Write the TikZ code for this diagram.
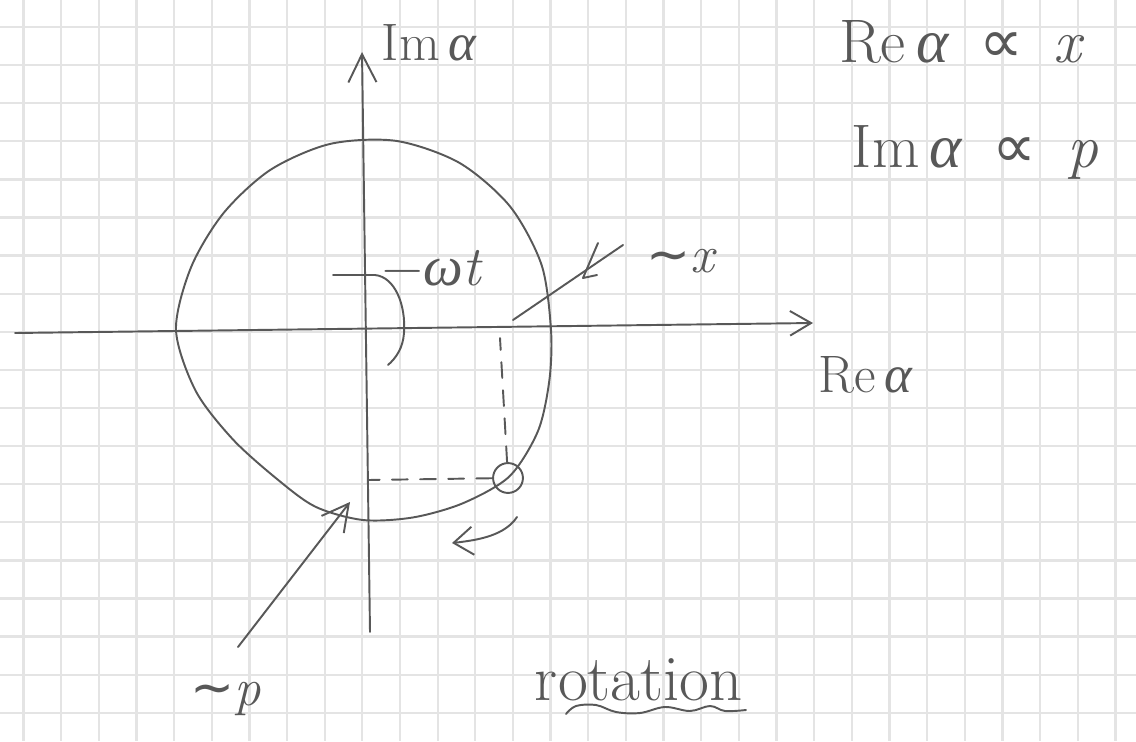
\documentclass[tikz,border=0pt]{standalone}
\usepackage{fontspec}
\newfontfamily\grk{Liberation Serif}
\newfontfamily\symf{DejaVu Sans}
\usetikzlibrary{arrows.meta}
\definecolor{pen}{RGB}{88,88,88}
\definecolor{gridc}{RGB}{228,228,228}
\newcommand{\al}{{\grk\itshape α}}
\newcommand{\om}{{\grk\itshape ω}}
\begin{document}
\begin{tikzpicture}[x=0.02cm,y=-0.02cm,
  penline/.style={draw=pen,line width=1.1pt,line cap=round,line join=round},
  gridline/.style={draw=gridc,line width=1.3pt},
  lbl/.style={text=pen,inner sep=0pt,anchor=base,font=\fontsize{30}{36}\selectfont},
  barb/.style={-{Straight Barb[length=#1,width=16pt,line width=1.1pt]}},
  barb/.default=14pt]
\useasboundingbox (0,0) rectangle (1136,741);
\fill[white] (0,0) rectangle (1136,741);
% grid paper
\foreach \i in {0,...,29} \draw[gridline] ({23.5+37.65*\i},0) -- ({23.5+37.65*\i},741);
\foreach \j in {0,...,18} \draw[gridline] (0,{27+38.1*\j}) -- (1136,{27+38.1*\j});

% axes
\coordinate (xL) at (15,333);
\coordinate (xR) at (813,323);
\coordinate (yB) at (370,632);
\coordinate (yT) at (362,52);
\draw[penline,-{Straight Barb[length=12pt,width=14pt,line width=1.1pt]}] (xL) -- (xR);
\draw[penline,barb=16pt] (yB) -- (yT);

% circle (hand drawn)
\draw[penline] plot[smooth cycle] coordinates {
 (551,330) (541.6,265) (510.1,206.5) (459.5,162.9) (396.3,140.9) (330.2,143.9)
 (270.5,169.8) (223.6,213) (191,267.4) (176,330) (195.7,390.9) (232.8,439.3)
 (277,479) (315.6,506.8) (363,520) (413.2,517.4) (463,503.2) (509.4,476.4)
 (538,431) (549.4,380)};

% point on circle
\node[penline,circle,minimum size=17pt,inner sep=0pt] (pt) at (508,478) {};
\coordinate (dx) at (500,338);
\coordinate (dy) at (368,480);
\draw[penline,dash pattern=on 9pt off 7pt] (pt) -- (dx);
\draw[penline,dash pattern=on 9pt off 7pt] (pt) -- (dy);

% angle arc -wt
\coordinate (arcA) at (333,275);
\coordinate (arcB) at (388,365);
\draw[penline] (arcA) -- (375,275) .. controls (395,277) and (406,305) .. (404,333)
  .. controls (403,348) and (396,358) .. (arcB);
\node[lbl,font=\fontsize{32}{36}\selectfont] (omt) at (432,285) {−\om\itshape t};

% labels
\node[lbl] (im) at (429,60) {Im\,\al};
\node[lbl] (re) at (865,392) {Re\,\al};
\node[lbl,font=\fontsize{35}{40}\selectfont] (rx) at (962,62) {Re\,\al\enspace{\symf ∝}\enspace\textit{x}};
\node[lbl,font=\fontsize{35}{40}\selectfont] (ip) at (975,167) {Im\,\al\enspace{\symf ∝}\enspace\textit{p}};

% ~x pointer
\node[lbl] (simx) at (682,272) {{\symf ∼}\textit{x}};
\coordinate (xs) at (513,320);
\coordinate (xe) at (623,245);
\draw[penline] (xs) -- (xe);
\draw[penline] (598,243) -- (583,278) -- (597,275);

% ~p pointer
\node[lbl] (simp) at (226,705) {{\symf ∼}\textit{p}};
\coordinate (ptail) at (238,647);
\coordinate (ptip) at (350,502);
\draw[penline,barb=15pt] (ptail) -- (ptip);

% rotation arrow
\coordinate (rs) at (517,517);
\coordinate (rr) at (452,543);
\draw[penline,-{Straight Barb[length=11pt,width=16pt,line width=1.1pt]}] (rs) .. controls (505,535) and (480,540) .. (rr);
\node[lbl,font=\fontsize{37}{42}\selectfont] (rot) at (639,700) {rotation};
\draw[penline] plot[smooth,tension=0.6] coordinates {(566,714) (576,706) (596,705) (616,712) (640,713) (665,707) (690,711) (710,706) (725,711) (746,710)};
\end{tikzpicture}
\end{document}
